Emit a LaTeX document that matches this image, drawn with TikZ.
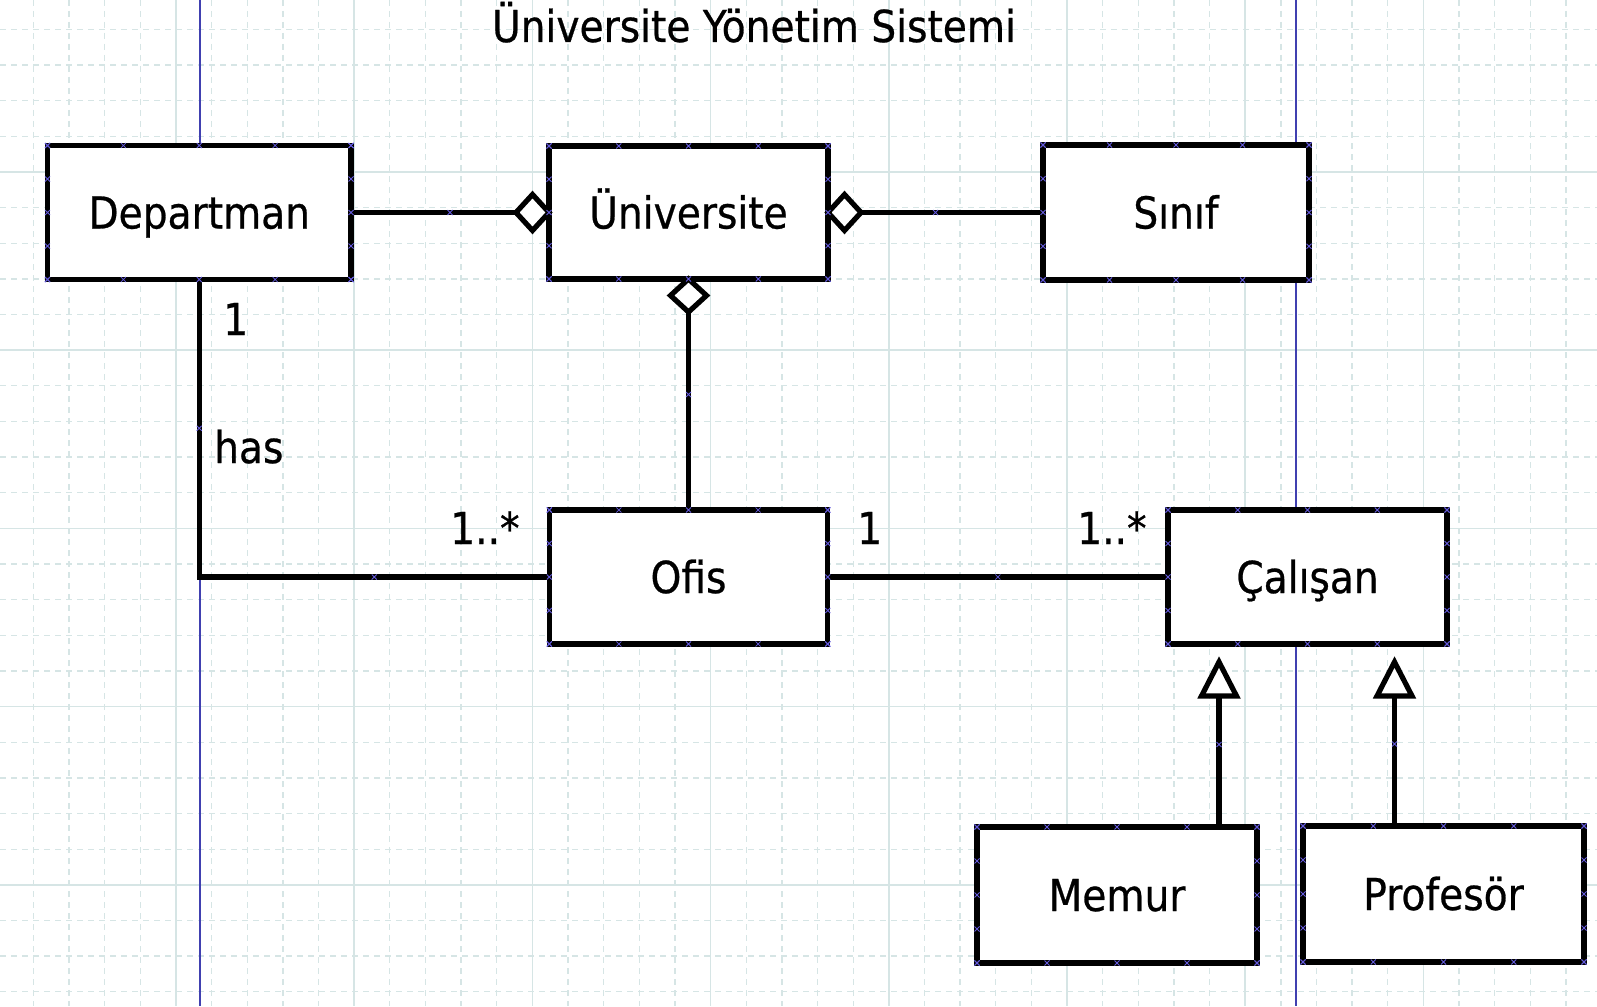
\documentclass[tikz,border=0pt]{standalone}
\usepackage{fontspec}
\setmainfont{DejaVu Sans}[FakeStretch=0.89,FakeBold=0.6]
\usetikzlibrary{calc}
\definecolor{gridc}{RGB}{214,229,229}
\definecolor{bluel}{RGB}{64,64,176}
\definecolor{markc}{RGB}{100,90,220}
\newcommand\xmk[1]{\draw[xmkstyle] #1 +(-2.5,-2.5) -- +(2.5,2.5) +(-2.5,2.5) -- +(2.5,-2.5);}
\begin{document}
\begin{tikzpicture}[x=1pt,y=-1pt,
  box/.style={draw=black,line width=5.2pt,fill=white,outer sep=0pt,inner sep=0pt,
    font=\fontsize{44}{52}\selectfont,text height=32pt,text depth=0pt},
  conn/.style={line width=5.2pt,black},
  head/.style={line width=5.2pt,draw=black,fill=white,line join=miter},
  lbl/.style={font=\fontsize{44}{52}\selectfont,inner sep=0pt,anchor=base west},
  gridd/.style={gridc,line width=1.3pt,dash pattern=on 6pt off 5pt},
  grids/.style={gridc,line width=1.6pt},
  xmkstyle/.style={markc,line width=0.8pt}]

\useasboundingbox (0,0) rectangle (1597,1006);
\fill[white] (0,0) rectangle (1597,1006);

% grid
\foreach \k in {-4,...,39} \draw[gridd] ({176+35.64*\k},0) -- ++(0,1006);
\foreach \k in {-4,...,23} \draw[gridd] (0,{172+35.64*\k}) -- ++(1597,0);
\foreach \k in {0,...,7} \draw[grids] ({176+178.2*\k},0) -- ++(0,1006);
\foreach \k in {0,...,4} \draw[grids] (0,{172+178.2*\k}) -- ++(1597,0);

% page boundary lines
\draw[bluel,line width=2pt] (200,0) -- (200,1006);
\draw[bluel,line width=2pt] (1296,0) -- (1296,1006);

% title
\node[font=\fontsize{44}{52}\selectfont,anchor=base,inner sep=0pt] (title) at (754,42) {Üniversite Yönetim Sistemi};

% boxes
\node[box,minimum width=303.5pt,minimum height=134pt] (dep) at (199.25,212.5) {Departman};
\node[box,minimum width=279pt,minimum height=133pt] (uni) at (688.5,212.5) {Üniversite};
\node[box,minimum width=266pt,minimum height=135pt] (sin) at (1176,212.5) {Sınıf};
\node[box,minimum width=278.5pt,minimum height=134pt] (ofi) at (688.5,577) {Ofis};
\node[box,minimum width=279pt,minimum height=134pt] (cal) at (1307.5,577) {Çalışan};
\node[box,minimum width=280pt,minimum height=136pt] (mem) at (1117,895) {Memur};
\node[box,minimum width=281pt,minimum height=136pt] (pro) at (1443.5,894) {Profesör};

% connectors
\draw[conn] (dep.east) -- (uni.west);
\draw[head] (uni.west) -- ++(-16.5,-18) -- ++(-16.5,18) -- ++(16.5,18) -- cycle;
\draw[conn] (uni.east) -- (sin.west);
\draw[head] (uni.east) -- ++(16.5,-18) -- ++(16.5,18) -- ++(-16.5,18) -- cycle;
\draw[conn] (uni.south) -- (ofi.north);
\draw[head] (uni.south) -- ++(18,16.5) -- ++(-18,16.5) -- ++(-18,-16.5) -- cycle;
\draw[conn] (dep.south) |- (ofi.west);
\draw[conn] (ofi.east) -- (cal.west);

\coordinate (mt) at (1219,662);
\coordinate (pt) at (1394.5,662);
\draw[conn] (mem.north -| mt) -- ($(mt)+(0,34)$);
\draw[head] (mt) -- ++(17.5,34) -- ++(-35,0) -- cycle;
\draw[conn] (pro.north -| pt) -- ($(pt)+(0,34)$);
\draw[head] (pt) -- ++(17.5,34) -- ++(-35,0) -- cycle;

% labels
\node[lbl] (m1) at (223,335) {1};
\node[lbl] (mhas) at (214,463) {has};
\node[lbl] (m2) at (450,544) {1..*};
\node[lbl] (m3) at (857,544) {1};
\node[lbl] (m4) at (1077,544) {1..*};

% handle marks
\foreach \b in {dep,uni,sin,ofi,cal,mem,pro}{
  \foreach \f in {0,0.25,0.5,0.75,1}{
    \xmk{($(\b.north west)!\f!(\b.north east)$)}
    \xmk{($(\b.south west)!\f!(\b.south east)$)}
    \xmk{($(\b.north west)!\f!(\b.south west)$)}
    \xmk{($(\b.north east)!\f!(\b.south east)$)}
  }
}
\xmk{($(dep.east)!0.5!(uni.west)$)}
\xmk{($(uni.east)!0.5!(sin.west)$)}
\xmk{($(uni.south)!0.5!(ofi.north)$)}
\xmk{($(dep.south)!0.5!(dep.south|-ofi.west)$)}
\xmk{($(dep.south|-ofi.west)!0.5!(ofi.west)$)}
\xmk{($(ofi.east)!0.5!(cal.west)$)}
\xmk{($(mem.north -| mt)!0.5!(mt)$)}
\xmk{($(pro.north -| pt)!0.5!(pt)$)}
\end{tikzpicture}
\end{document}
